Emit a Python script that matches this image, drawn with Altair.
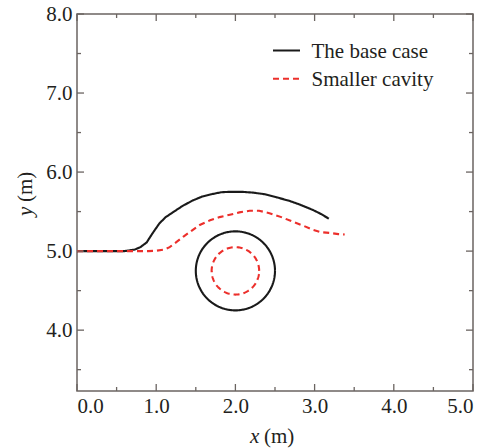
import altair as alt
import pandas as pd
import numpy as np

# ---- data ----
series = ["The base case", "Smaller cavity"]

base_x = [0.0, 0.3, 0.6, 0.73, 0.80, 0.88, 0.95, 1.04, 1.12, 1.21, 1.33, 1.46, 1.58,
          1.70, 1.82, 1.93, 2.08, 2.22, 2.37, 2.52, 2.67, 2.81, 2.98, 3.08, 3.18]
base_y = [5.0, 5.0, 5.0, 5.02, 5.05, 5.11, 5.22, 5.35, 5.43, 5.49, 5.57, 5.64, 5.69,
          5.72, 5.745, 5.75, 5.75, 5.74, 5.72, 5.68, 5.64, 5.59, 5.52, 5.47, 5.41]

small_x = [0.0, 0.5, 0.9, 1.0, 1.1, 1.17, 1.25, 1.34, 1.45, 1.55, 1.68, 1.80, 1.93,
           2.05, 2.18, 2.30, 2.43, 2.58, 2.73, 2.86, 2.98, 3.08, 3.19, 3.30, 3.38]
small_y = [5.0, 5.0, 5.0, 5.005, 5.02, 5.05, 5.11, 5.18, 5.26, 5.33, 5.39, 5.43, 5.46,
           5.49, 5.51, 5.51, 5.48, 5.43, 5.37, 5.32, 5.27, 5.24, 5.23, 5.215, 5.21]

cavity_cx = [2.0, 2.0]
cavity_cy = [4.75, 4.75]
cavity_r = [0.5, 0.3]

x_major = [0.0, 1.0, 2.0, 3.0, 4.0, 5.0]
x_minor = [0.5, 1.5, 2.5, 3.5, 4.5]
y_major = [4.0, 5.0, 6.0, 7.0, 8.0]
y_minor = [3.5, 4.5, 5.5, 6.5, 7.5]

# ---- build table ----
rows = []
for case, xs_, ys_ in [(series[0], base_x, base_y), (series[1], small_x, small_y)]:
    for i, (xv, yv) in enumerate(zip(xs_, ys_)):
        rows.append({"case": case, "part": "surface", "i": i, "x": xv, "y": yv})
ang = np.linspace(0, 2 * np.pi, 145)
for k, case in enumerate(series):
    for j, a in enumerate(ang):
        rows.append({"case": case, "part": "cavity", "i": j,
                     "x": cavity_cx[k] + cavity_r[k] * np.cos(a),
                     "y": cavity_cy[k] + cavity_r[k] * np.sin(a)})
df = pd.DataFrame(rows)

W, H = 396, 377
FONT = "Liberation Serif"
FRAME = "#6b6461"
TXT = "#231f20"
BLACK = "#1a1a1a"
RED = "#ec2f2b"
FS = 21

xs = alt.Scale(domain=[0, 5], nice=False, zero=False)
ys = alt.Scale(domain=[3.23, 8], nice=False, zero=False)

xaxis = alt.Axis(values=x_major, format=".1f", title=None, ticks=False, tickSize=0,
                 domain=False, grid=False, labelFont=FONT, labelFontSize=FS,
                 labelColor=TXT, labelBaseline="alphabetic", labelPadding=21)
yaxis = alt.Axis(values=y_major, format=".1f", title=None, ticks=False, tickSize=0,
                 domain=False, grid=False, labelFont=FONT, labelFontSize=FS,
                 labelColor=TXT, labelPadding=5)

lines = alt.Chart(df).mark_line(strokeWidth=2.1, clip=True).encode(
    x=alt.X("x:Q", scale=xs, axis=xaxis),
    y=alt.Y("y:Q", scale=ys, axis=yaxis),
    color=alt.Color("case:N", scale=alt.Scale(domain=series, range=[BLACK, RED]), legend=None),
    strokeDash=alt.StrokeDash("case:N", scale=alt.Scale(domain=series, range=[[1, 0], [6, 4]]),
                              legend=None),
    detail="part:N",
    order="i:Q",
)


def xticks(vals, length):
    d = pd.DataFrame({"v": vals})
    bottom = alt.Chart(d).mark_rule(color=FRAME, strokeWidth=1.3).encode(
        x=alt.X("v:Q", scale=xs, axis=xaxis), y=alt.value(H), y2=alt.value(H - length))
    top = alt.Chart(d).mark_rule(color=FRAME, strokeWidth=1.3).encode(
        x=alt.X("v:Q", scale=xs, axis=xaxis), y=alt.value(0), y2=alt.value(length))
    return [bottom, top]


def yticks(vals, length):
    d = pd.DataFrame({"v": vals})
    left = alt.Chart(d).mark_rule(color=FRAME, strokeWidth=1.3).encode(
        y=alt.Y("v:Q", scale=ys, axis=yaxis), x=alt.value(0), x2=alt.value(length))
    right = alt.Chart(d).mark_rule(color=FRAME, strokeWidth=1.3).encode(
        y=alt.Y("v:Q", scale=ys, axis=yaxis), x=alt.value(W), x2=alt.value(W - length))
    return [left, right]


tick_layers = xticks(x_major, 7) + xticks(x_minor, 4) + yticks(y_major, 7) + yticks(y_minor, 4)


def label(text, px, py, angle=0, italic=False, font=FONT):
    kw = dict(font=font, fontSize=FS, align="left", baseline="alphabetic", color=TXT)
    if italic:
        kw["fontStyle"] = "italic"
    if angle:
        kw["angle"] = angle
    return alt.Chart(pd.DataFrame({"t": [text]})).mark_text(**kw).encode(
        text="t:N", x=alt.value(px), y=alt.value(py))


# legend (inside the frame, top right)
legend_layers = []
for k, (col, dash) in enumerate([(BLACK, [1, 0]), (RED, [6, 4])]):
    yy = 36.5 + 28.3 * k
    legend_layers.append(
        alt.Chart(pd.DataFrame({"s": [series[k]]})).mark_rule(
            color=col, strokeWidth=2.1, strokeDash=dash
        ).encode(x=alt.value(196), x2=alt.value(223), y=alt.value(yy))
    )
    legend_layers.append(label(series[k], 234.5, yy + 7.5))

titles = [
    label("x", 173, 429, italic=True),
    label("(m)", 187, 429),
    label("y", -45, 202, angle=270, italic=True),
    label("(m)", -45, 188, angle=270),
]

chart = alt.layer(lines, *tick_layers, *legend_layers, *titles).properties(
    width=W, height=H,
    padding={"left": 77, "top": 14, "right": 15, "bottom": 57},
    autosize=alt.AutoSizeParams(type="none"),
    background="white",
).configure_view(stroke=FRAME, strokeWidth=1.5)

chart.save("out.html", embed_options={"renderer": "svg", "actions": False})
